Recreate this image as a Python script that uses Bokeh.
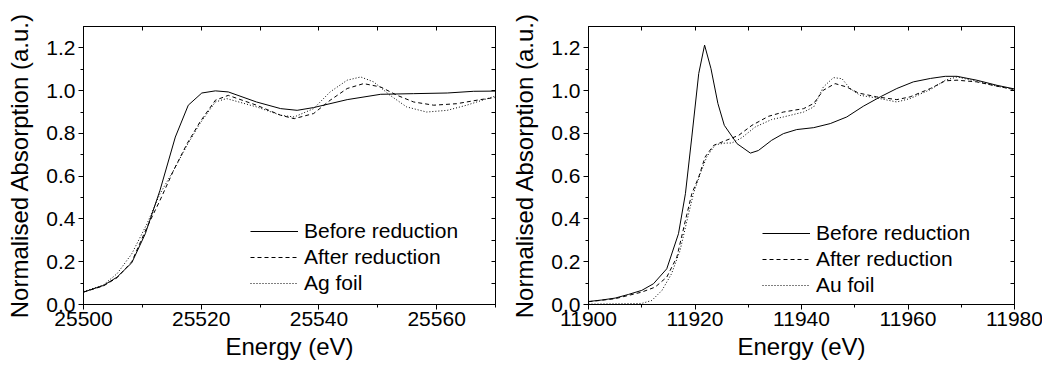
from bokeh.plotting import figure
from bokeh.layouts import row
from bokeh.models import (LinearAxis, Range1d, Legend, LegendItem,
                          SingleIntervalTicker, PrintfTickFormatter, CustomLabelingPolicy)
from bokeh.embed import file_html
from bokeh.resources import INLINE

# ---------------- data: Ag K-edge (left panel) ----------------
ag_before_e = [25500, 25503.4, 25505.7, 25508.2, 25510.5, 25513.0, 25515.6, 25517.8, 25520.1,
               25522.4, 25524.6, 25529.4, 25533.5, 25536.3, 25539.1, 25544.8, 25550.5, 25556.1,
               25561.8, 25566.3, 25570]
ag_before_a = [0.058, 0.089, 0.128, 0.195, 0.331, 0.534, 0.783, 0.932, 0.989,
               0.999, 0.994, 0.947, 0.916, 0.908, 0.921, 0.958, 0.983, 0.986,
               0.989, 0.997, 0.998]

ag_after_e = [25500, 25503.4, 25505.7, 25508.2, 25510.8, 25513.0, 25515.3, 25517.6, 25519.8,
              25522.4, 25524.6, 25529.4, 25533.5, 25535.8, 25539.1, 25541.9, 25544.8, 25547.6,
              25550.5, 25553.3, 25556.1, 25559.5, 25563.4, 25567.4, 25570]
ag_after_a = [0.058, 0.087, 0.125, 0.200, 0.362, 0.487, 0.627, 0.752, 0.854,
              0.955, 0.978, 0.932, 0.885, 0.869, 0.893, 0.955, 1.010, 1.033,
              1.017, 0.978, 0.947, 0.932, 0.939, 0.958, 0.968]

ag_foil_e = [25500, 25503.4, 25505.7, 25508.2, 25510.8, 25513.0, 25515.3, 25517.6, 25519.8,
             25522.4, 25524.3, 25529.4, 25533.5, 25535.8, 25539.1, 25541.9, 25544.8, 25547.1,
             25549.3, 25552.1, 25554.9, 25558.3, 25561.8, 25565.1, 25570]
ag_foil_a = [0.060, 0.092, 0.144, 0.237, 0.378, 0.518, 0.627, 0.745, 0.847,
             0.947, 0.963, 0.924, 0.885, 0.877, 0.916, 0.994, 1.049, 1.064,
             1.041, 0.978, 0.924, 0.900, 0.908, 0.932, 0.975]

# ---------------- data: Au L3-edge (right panel) ----------------
au_before_e = [11900, 11902.5, 11905, 11907.5, 11910, 11912.2, 11914.7, 11916.9, 11918.2,
               11919.4, 11920.7, 11921.8, 11923.0, 11924.3, 11925.5, 11927.9, 11930.4, 11931.9,
               11934.4, 11936.6, 11939.1, 11942.3, 11945.4, 11948.5, 11951.6, 11954.8, 11957.9,
               11961.0, 11964.2, 11967.0, 11969.2, 11972.9, 11976.7, 11980]
au_before_a = [0.014, 0.021, 0.030, 0.047, 0.066, 0.097, 0.167, 0.331, 0.518,
               0.783, 1.080, 1.213, 1.103, 0.940, 0.838, 0.752, 0.708, 0.720,
               0.768, 0.799, 0.818, 0.827, 0.846, 0.877, 0.927, 0.971, 1.010,
               1.041, 1.057, 1.067, 1.067, 1.049, 1.025, 1.008]

au_after_e = [11900, 11905, 11910, 11912.5, 11914.7, 11916.6, 11918.2, 11919.4, 11920.7,
              11921.9, 11923.5, 11925.7, 11928.2, 11930.7, 11933.8, 11936.6, 11940.4, 11942.3,
              11944.1, 11946.3, 11948.5, 11950.7, 11954.1, 11957.9, 11960.4, 11964.2, 11967.0,
              11969.2, 11972.9, 11976.7, 11980]
au_after_a = [0.013, 0.027, 0.058, 0.081, 0.128, 0.222, 0.393, 0.518, 0.596,
              0.690, 0.744, 0.766, 0.791, 0.838, 0.880, 0.900, 0.916, 0.940,
              1.002, 1.033, 1.017, 0.989, 0.971, 0.958, 0.971, 1.010, 1.046,
              1.049, 1.041, 1.021, 1.005]

au_foil_e = [11900, 11905, 11910, 11911.9, 11913.8, 11915.6, 11917.2, 11918.5, 11919.7,
             11921.0, 11922.2, 11923.8, 11925.7, 11926.9, 11928.8, 11931.3, 11934.4, 11936.6,
             11940.4, 11942.3, 11944.1, 11946.0, 11947.6, 11949.1, 11951.0, 11954.1, 11957.9,
             11960.4, 11964.2, 11967.0, 11969.2, 11972.9, 11976.7, 11980]
au_foil_a = [0.002, 0.003, 0.005, 0.019, 0.066, 0.144, 0.253, 0.393, 0.518,
             0.612, 0.690, 0.747, 0.755, 0.755, 0.780, 0.830, 0.865, 0.877,
             0.900, 0.924, 1.017, 1.061, 1.056, 1.010, 0.978, 0.966, 0.947,
             0.963, 1.005, 1.049, 1.064, 1.044, 1.021, 1.005]

labels_left = ["Before reduction", "After reduction", "Ag foil"]
labels_right = ["Before reduction", "After reduction", "Au foil"]
x_title = "Energy (eV)"
y_title = "Normalised Absorption (a.u.)"

FONT = "Liberation Sans"
TICK_FS = "21px"
TITLE_FS = "24px"


def make_panel(series, labels, xr, frame_w, bl, br, legend_loc):
    p = figure(frame_width=frame_w, frame_height=278,
               x_range=Range1d(*xr), y_range=Range1d(0, 1.3),
               min_border_left=bl, min_border_right=br,
               min_border_top=26, min_border_bottom=66,
               output_backend="svg", toolbar_location=None,
               background_fill_color="white", border_fill_color="white")
    p.grid.visible = False
    p.outline_line_color = "black"
    p.outline_line_width = 1

    # bottom axis
    xa = p.xaxis[0]
    xa.ticker = SingleIntervalTicker(interval=20, num_minor_ticks=2)
    xa.formatter = PrintfTickFormatter(format="%d")
    # left axis
    ya = p.yaxis[0]
    ya.ticker = SingleIntervalTicker(interval=0.2, num_minor_ticks=2)
    ya.formatter = PrintfTickFormatter(format="%.1f")
    for ax in (xa, ya):
        ax.axis_line_color = "black"
        ax.major_tick_line_color = "black"
        ax.minor_tick_line_color = "black"
        ax.major_tick_in = 0
        ax.major_tick_out = 5
        ax.minor_tick_in = 0
        ax.minor_tick_out = 3
        ax.major_label_text_font = FONT
        ax.major_label_text_font_size = TICK_FS
        ax.major_label_text_color = "black"
        ax.axis_label_text_font = FONT
        ax.axis_label_text_font_size = TITLE_FS
        ax.axis_label_text_font_style = "normal"
        ax.axis_label_text_color = "black"
    xa.axis_label = x_title
    ya.axis_label = y_title
    xa.major_label_standoff = 2
    xa.axis_label_standoff = 4
    ya.major_label_standoff = 3
    ya.axis_label_standoff = 10

    # mirrored axes (top / right) with inward ticks, no labels drawn
    top = LinearAxis(ticker=SingleIntervalTicker(interval=10, num_minor_ticks=0))
    right = LinearAxis(ticker=SingleIntervalTicker(interval=0.1, num_minor_ticks=0))
    for ax in (top, right):
        ax.major_tick_in = 4
        ax.major_tick_out = 0
        ax.minor_tick_in = 0
        ax.minor_tick_out = 0
        ax.major_label_text_font_size = "1px"
        ax.major_label_standoff = 0
        ax.major_label_policy = CustomLabelingPolicy(code="return new Set()")
        ax.axis_line_color = "black"
        ax.major_tick_line_color = "black"
    p.add_layout(top, "above")
    p.add_layout(right, "right")

    styles = [dict(line_dash="solid"), dict(line_dash="4 3"), dict(line_dash="1 2")]
    items = []
    for (e, a), lab, st in zip(series, labels, styles):
        r = p.line(e, a, line_color="black", line_width=1, **st)
        items.append(LegendItem(label=lab, renderers=[r]))

    leg = Legend(items=items, location=legend_loc,
                 label_text_font=FONT, label_text_font_size=TICK_FS,
                 label_text_color="black",
                 glyph_width=48, glyph_height=26, label_height=26,
                 label_standoff=6, spacing=0, padding=0, margin=0,
                 border_line_color=None, background_fill_alpha=0)
    p.add_layout(leg, "center")
    return p


left = make_panel([(ag_before_e, ag_before_a), (ag_after_e, ag_after_a), (ag_foil_e, ag_foil_a)],
                  labels_left, (25500, 25570), 412, 83, 13, (167, 8))
right = make_panel([(au_before_e, au_before_a), (au_after_e, au_after_a), (au_foil_e, au_foil_a)],
                   labels_right, (11900, 11980), 426, 77, 31, (174, 6))

layout = row(left, right, spacing=0)
open("out.html", "w").write(file_html(layout, INLINE))
